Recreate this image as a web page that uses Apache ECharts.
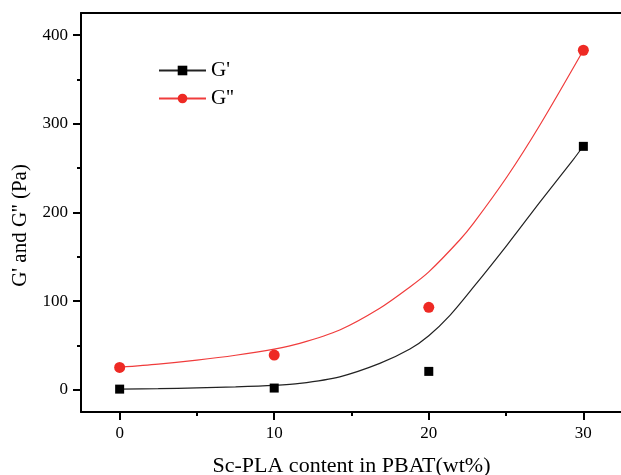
<!DOCTYPE html>
<html><head><meta charset="utf-8">
<script src="https://cdn.jsdelivr.net/npm/echarts@6/dist/echarts.min.js"></script>
<style>html,body{margin:0;padding:0;background:#fff}#c{width:621px;height:475px}</style>
</head><body><div id="c"></div>
<script>
// Data
const content = [0, 10, 20, 30];                 // Sc-PLA content (wt%)
const gPrime = [0.8, 2, 20.8, 274.6];            // G' (Pa)
const gDouble = [25.3, 39.2, 93.1, 383];         // G'' (Pa)
// fitted curves, points
const gPrimeFitX = [0, 2.5, 5, 7.5, 10, 11.65, 14.24, 16.83, 18.78, 20, 21.37, 22.9, 25.05, 27.2, 29.36, 30];
const gPrimeFit = [0.8, 1.3, 2.2, 3.3, 5, 7.2, 14.7, 29.8, 46, 61, 84, 116, 163, 212, 260, 275];
const gDoubleFitX = [0, 2.5, 5, 7.5, 10, 11.65, 14.24, 16.83, 18.78, 20, 22, 22.9, 25.05, 27.2, 30];
const gDoubleFit = [25.5, 29, 33.5, 39, 46, 52.4, 67.5, 92, 116, 133, 169, 188, 240, 299, 383];
const xMajor = [0, 10, 20, 30];
const xMinor = [5, 15, 25];
const yMajor = [0, 100, 200, 300, 400];
const yMinor = [50, 150, 250, 350];

const FONT = '"Liberation Serif", "Times New Roman", serif';
const zip = (xs, ys) => xs.map((x, i) => [x, ys[i]]);
const chart = echarts.init(document.getElementById('c'), null, {renderer: 'canvas'});
const axisLine = {show: true, onZero: false, lineStyle: {color: '#000', width: 2}};
chart.setOption({
  animation: false,
  backgroundColor: '#fff',
  grid: {left: 81, top: 13, width: 541, bottom: 63, containLabel: false, outerBoundsMode: 'none'},
  legend: {
    orient: 'vertical', left: 158, top: 60, padding: 0, itemWidth: 47, itemHeight: 12, itemGap: 7,
    data: ["G'", "G''"],
    textStyle: {fontFamily: FONT, fontSize: 21, lineHeight: 20, color: '#000'}
  },
  xAxis: [{
    type: 'value', min: -2.5, max: 32.5, position: 'bottom',
    name: 'Sc-PLA content in PBAT(wt%)', nameLocation: 'middle', nameGap: 43,
    nameTextStyle: {fontFamily: FONT, fontSize: 22, color: '#000'},
    axisLine: axisLine,
    axisTick: {show: true, inside: false, length: 8, customValues: xMajor, lineStyle: {color: '#000', width: 2}},
    axisLabel: {customValues: xMajor, fontFamily: FONT, fontSize: 17, color: '#000', margin: 13},
    splitLine: {show: false}
  }, {
    type: 'value', min: -2.5, max: 32.5, position: 'bottom',
    axisLine: {show: false, onZero: false},
    axisTick: {show: true, length: 4, customValues: xMinor, lineStyle: {color: '#000', width: 2}},
    axisLabel: {show: false, customValues: xMinor},
    splitLine: {show: false}
  }, {
    type: 'value', min: -2.5, max: 32.5, position: 'top',
    axisLine: axisLine, axisTick: {show: false}, axisLabel: {show: false}, splitLine: {show: false}
  }],
  yAxis: [{
    type: 'value', min: -25, max: 425, position: 'left',
    name: "G' and G'' (Pa)", nameLocation: 'middle', nameGap: 50, nameRotate: 90,
    nameTextStyle: {fontFamily: FONT, fontSize: 21, color: '#000', padding: [0, 26, 0, 0]},
    axisLine: axisLine,
    axisTick: {show: true, length: 8, customValues: yMajor, lineStyle: {color: '#000', width: 2}},
    axisLabel: {customValues: yMajor, fontFamily: FONT, fontSize: 17, color: '#000', margin: 13},
    splitLine: {show: false}
  }, {
    type: 'value', min: -25, max: 425, position: 'left',
    axisLine: {show: false, onZero: false},
    axisTick: {show: true, length: 4, customValues: yMinor, lineStyle: {color: '#000', width: 2}},
    axisLabel: {show: false, customValues: yMinor},
    splitLine: {show: false}
  }],
  series: [
    {name: "G'", type: 'line', data: zip(gPrimeFitX, gPrimeFit), smooth: 0.3, showSymbol: false,
     symbol: 'rect', symbolSize: 10, color: '#000', lineStyle: {color: '#222', width: 1.2}, z: 2},
    {name: "G''", type: 'line', data: zip(gDoubleFitX, gDoubleFit), smooth: 0.3, showSymbol: false,
     symbol: 'circle', symbolSize: 11, color: '#ee2a24', lineStyle: {color: '#f03c3c', width: 1.2}, z: 2},
    {name: "G'", type: 'scatter', data: zip(content, gPrime), symbol: 'rect', symbolSize: 9,
     itemStyle: {color: '#000', opacity: 1}, z: 3},
    {name: "G''", type: 'scatter', data: zip(content, gDouble), symbol: 'circle', symbolSize: 11,
     itemStyle: {color: '#ee2a24', opacity: 1}, z: 3}
  ]
});
</script></body></html>
